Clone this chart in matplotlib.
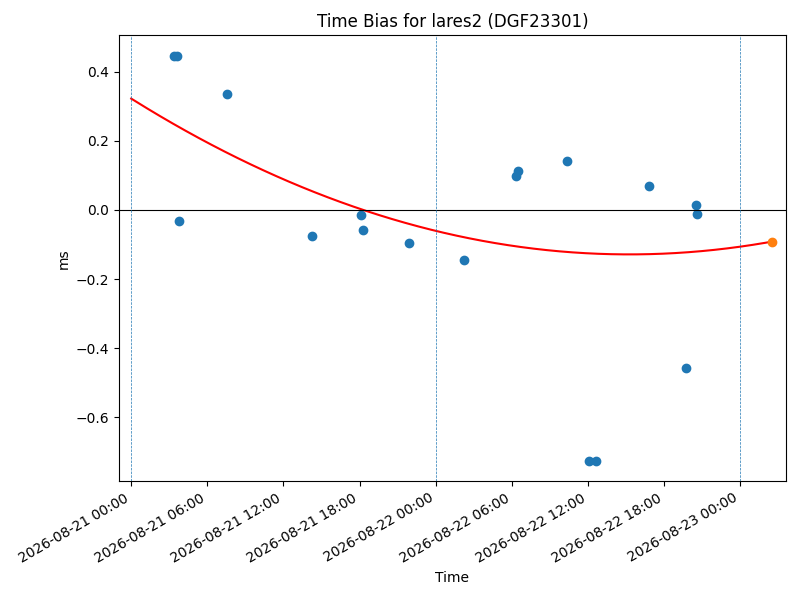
import numpy as np
import pandas as pd
import matplotlib
matplotlib.use("Agg")
import matplotlib.pyplot as plt
import matplotlib.dates as mdates

# 观测的时间偏差 (ms)
obs_times = pd.to_datetime([
    "2026-08-21 03:22", "2026-08-21 03:38", "2026-08-21 03:47", "2026-08-21 07:33",
    "2026-08-21 14:15", "2026-08-21 18:06", "2026-08-21 18:17", "2026-08-21 21:55",
    "2026-08-22 02:15", "2026-08-22 06:19", "2026-08-22 06:30", "2026-08-22 10:22",
    "2026-08-22 12:06", "2026-08-22 12:38", "2026-08-22 16:48", "2026-08-22 19:43",
    "2026-08-22 20:31", "2026-08-22 20:35",
])
obs_bias = [0.446, 0.446, -0.032, 0.336,
            -0.076, -0.0145, -0.058, -0.096,
            -0.145, 0.099, 0.113, 0.141,
            -0.728, -0.728, 0.069, -0.459,
            0.0145, -0.0116]

# 预测点
pred_time = pd.to_datetime(["2026-08-23 02:31"])
pred_bias = [-0.094]

# 拟合曲线上读出的点
curve_times = pd.to_datetime([
    "2026-08-21 00:00", "2026-08-21 07:00", "2026-08-21 14:52", "2026-08-21 18:10",
    "2026-08-22 00:04", "2026-08-22 07:25", "2026-08-22 15:18", "2026-08-22 23:59",
    "2026-08-23 02:31",
])
curve_bias = [0.324, 0.174, 0.048, 0.0, -0.061, -0.111, -0.128, -0.104, -0.094]

midnights = pd.to_datetime(["2026-08-21", "2026-08-22", "2026-08-23"])

# 平滑曲线
cx = mdates.date2num(curve_times)
coef = np.polyfit(cx - cx[0], curve_bias, 2)
xs = np.linspace(cx[0], cx[-1], 200)
ys = np.polyval(coef, xs - cx[0])

fig, ax = plt.subplots(figsize=(8, 6), dpi=100)
ax.scatter(mdates.date2num(obs_times), obs_bias, color="C0")
ax.plot(xs, ys, color="red")
ax.scatter(mdates.date2num(pred_time), pred_bias, color="C1", zorder=3)
ax.axhline(0, color="black", linewidth=0.8)
for d in mdates.date2num(midnights):
    ax.axvline(d, color="C0", linestyle="--", linewidth=0.5)

t0 = mdates.date2num(pd.Timestamp("2026-08-21 00:00"))
ax.set_xlim(t0 - 0.946 / 24, t0 + 51.58 / 24)
ax.set_ylim(-0.786, 0.506)
ax.xaxis.set_major_locator(mdates.HourLocator(byhour=[0, 6, 12, 18]))
ax.xaxis.set_major_formatter(mdates.DateFormatter("%Y-%m-%d %H:%M"))
ax.set_title("Time Bias for lares2 (DGF23301)")
ax.set_xlabel("Time")
ax.set_ylabel("ms")
fig.autofmt_xdate()
fig.subplots_adjust(left=0.149, right=0.982, top=0.941, bottom=0.198)
plt.savefig("out.png")
